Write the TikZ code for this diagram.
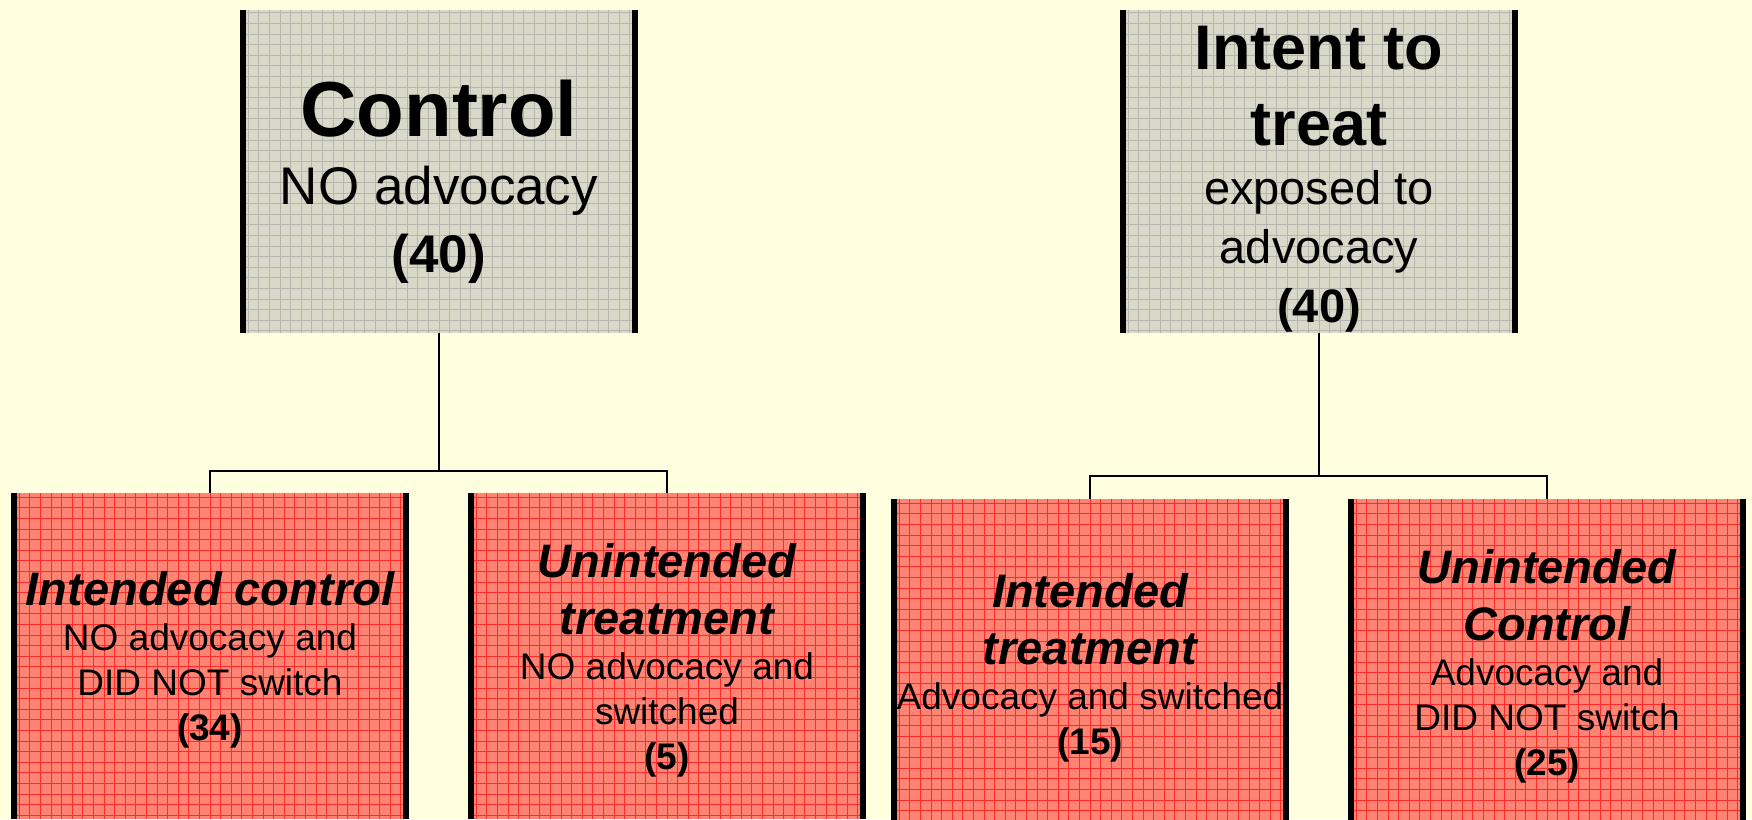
\documentclass[tikz,border=0pt]{standalone}
\usepackage{fontspec}
\setmainfont{Liberation Sans}
\usetikzlibrary{positioning}
\setlength\parindent{0pt}

\definecolor{paper}{HTML}{FFFFE0}
\definecolor{ctlgray}{HTML}{D8D9C9}
\definecolor{ctlgrid}{HTML}{B5B5AD}
\definecolor{armred}{HTML}{FF8474}
\definecolor{armgrid}{HTML}{FF2B2B}

% polices
\newcommand\sizedfont[2]{\fontsize{#1}{#2}\selectfont\spaceskip=0pt\xspaceskip=0pt}
\newcommand\ctltitle{\sizedfont{78}{68}\bfseries}
\newcommand\ctlbody{\sizedfont{53}{68}\mdseries}
\newcommand\ittitle{\sizedfont{63}{76}\bfseries}
\newcommand\itbody{\sizedfont{47}{59}\mdseries}
\newcommand\armtitle{\sizedfont{47}{57}\bfseries\itshape}
\newcommand\armbody{\sizedfont{37}{45}\mdseries\upshape}

\tikzset{
  box/.style={rectangle, anchor=north, inner sep=0pt, minimum width=391.5pt},
  gridded/.style={path picture={
      \draw[#1, line width=0.8pt, step=10.6pt]
        (path picture bounding box.south west) grid (path picture bounding box.north east);}},
  ctlbox/.style={box, fill=ctlgray, gridded=ctlgrid, minimum height=323pt},
  armbox/.style={box, fill=armred, gridded=armgrid, minimum height=326pt},
  bar/.style={line width=6pt},
  link/.style={line width=2pt},
  txt/.style={anchor=north, inner sep=0pt, text width=392pt, align=flush center}
}

\begin{document}
\begin{tikzpicture}[x=1pt,y=-1pt]

% Fond
\fill[paper] (0,0) rectangle (1752,819);
\useasboundingbox (0,0) rectangle (1752,819);

% Groupes
\node[ctlbox] (ctl) at (439,10) {};
\node[ctlbox] (itt) at (1319,10) {};
\node[armbox] (icontrol) at (210,493) {};
\node[armbox] (utreat) at (667,493) {};
\node[armbox] (itreat) at (1090,499) {};
\node[armbox] (ucontrol) at (1547,499) {};

% Barres laterales
\foreach \b in {ctl,itt,icontrol,utreat,itreat,ucontrol}
{
    \draw[bar] (\b.north west) -- (\b.south west)
               (\b.north east) -- (\b.south east);
}

% Textes
\node[txt, below=70pt of ctl.north] (ctltxt)
{\ctltitle Control\par\ctlbody NO advocacy\par\bfseries (40)\par};
\node[txt, below=16pt of itt.north] (itttxt)
{\ittitle Intent to\par treat\par\itbody exposed to\par advocacy\par\bfseries (40)\par};
\node[txt, below=78pt of icontrol.north] (icontroltxt)
{\armtitle Intended control\par\armbody NO advocacy and\par DID NOT switch\par\bfseries (34)\par};
\node[txt, below=50pt of utreat.north] (utreattxt)
{\armtitle Unintended\par treatment\par\armbody NO advocacy and\par switched\par\bfseries (5)\par};
\node[txt, below=74pt of itreat.north] (itreattxt)
{\armtitle Intended\par treatment\par\armbody Advocacy and switched\par\bfseries (15)\par};
\node[txt, below=50pt of ucontrol.north] (ucontroltxt)
{\armtitle Unintended\par Control\par\armbody Advocacy and\par DID NOT switch\par\bfseries (25)\par};

% Liaisons
\coordinate (ctlsplit) at (439,471);
\coordinate (ittsplit) at (1319,476);
\draw[link] (ctl.south) -- (ctlsplit) -| (icontrol.north);
\draw[link] (ctlsplit) -| (utreat.north);
\draw[link] (itt.south) -- (ittsplit) -| (itreat.north);
\draw[link] (ittsplit) -| (ucontrol.north);

\end{tikzpicture}
\end{document}
